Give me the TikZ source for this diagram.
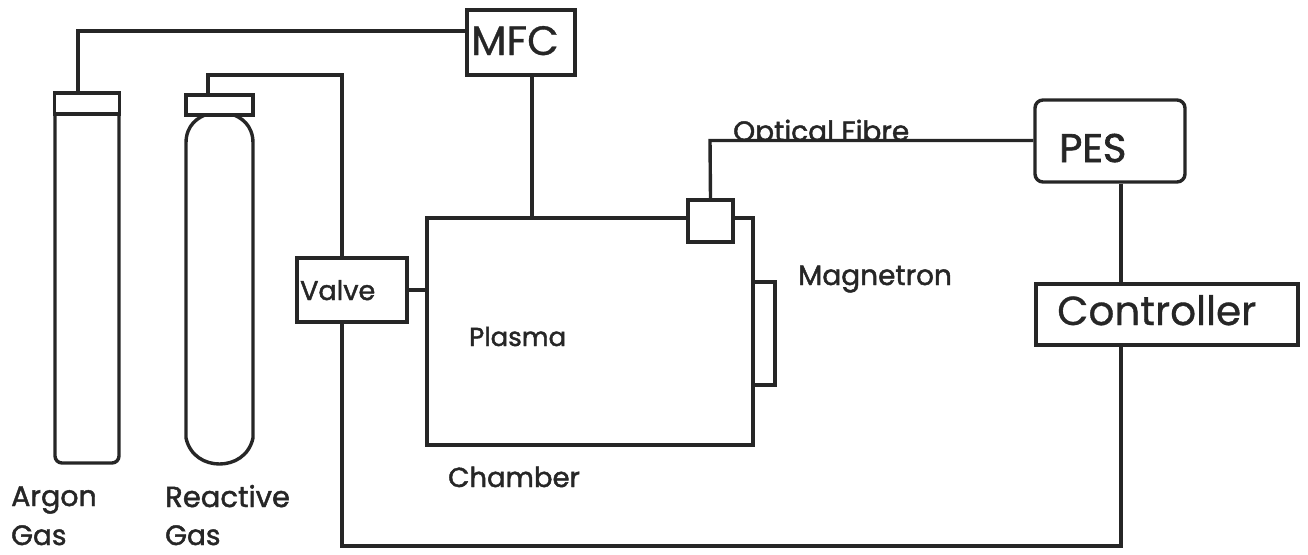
\documentclass[tikz,border=0pt]{standalone}
\usepackage{fontspec}
\setmainfont{Poppins}
\newfontfamily\hvfont[FakeBold=1.6]{Poppins}
\newfontfamily\mdfont[FakeBold=0.8]{Poppins}
\tikzset{
  ln/.style={draw=black!85, line width=3.4pt, line join=miter},
  lbl/.style={inner sep=0pt, text=black!85, anchor=base west},
  boxed/.style={draw=black!85, line width=3.4pt, fill=white, inner sep=0pt},
}
\newcommand{\fs}[1]{\fontsize{#1pt}{#1pt}\selectfont}
\begin{document}
\begin{tikzpicture}[x=1pt,y=-1pt]
\useasboundingbox (0,0) rectangle (1308,554);
% connectors that lie behind the boxes
\coordinate (a1) at (78,31);
\coordinate (r1) at (208,75);
\coordinate (r2) at (342,75);
\coordinate (o1) at (710,140.5);
\coordinate (b1) at (342,546);
\coordinate (b2) at (1121,546);
% label cut off by the fibre line, as printed
\begin{scope}
\clip (725,110) rectangle (925,141);
\node[lbl,font=\hvfont\fs{28}] (topt) at (733,141) {Optical Fibre};
\end{scope}
% chamber, sensor, boxes
\node[boxed,minimum width=326pt,minimum height=227pt] (ch) at (590,331.5) {};
\node[boxed,minimum width=108pt,minimum height=65pt] (mfc) at (521,42.5) {};
\node[boxed,minimum width=110pt,minimum height=64pt] (valve) at (352,290) {};
\node[boxed,rounded corners=8pt,minimum width=150pt,minimum height=82pt] (pes) at (1110,141) {};
\node[boxed,minimum width=262pt,minimum height=61pt] (ctl) at (1167,314.5) {};
% cylinders
\draw[ln,rounded corners=7pt] (55,114) -- (55,463) -- (119,463) -- (119,114);
\draw[ln] (186,143) .. controls (186,125) and (198,117) .. (208,114)
  (231,114) .. controls (241,117) and (253,125) .. (253,143)
  (186,143) -- (186,438) .. controls (190,456) and (205,464) .. (219.5,464)
  .. controls (234,464) and (249,456) .. (253,438) -- (253,143);
\node[boxed,minimum width=65pt,minimum height=21pt] (acap) at (87,103.5) {};
\node[boxed,minimum width=67pt,minimum height=20pt] (rcap) at (219.5,105) {};
% connectors
\draw[ln] (a1 |- acap.north) -- (a1) -- (a1 -| mfc.west);
\draw[ln] (r1 |- rcap.north) -- (r1) -- (r2) -- (r2 |- valve.north);
\draw[ln] ([xshift=11pt]mfc.south) -- ([xshift=11pt]mfc.south |- ch.north);
\draw[ln] (valve.east) -- (valve.east -| ch.west);
\node[boxed,minimum width=45pt,minimum height=42pt] (sq) at (710.5,221) {};
\draw[ln] (sq.north) -- (o1) -- (o1 -| pes.west);
\draw[ln] (pes.south -| b2) -- (ctl.north -| b2);
\draw[ln] (r2 |- valve.south) -- (b1) -- (b2) -- (b2 |- ctl.south);
% magnetron
\coordinate (m1) at (775,282);
\coordinate (m2) at (775,385);
\draw[ln] (m1 -| ch.east) -- (m1) -- (m2) -- (m2 -| ch.east);
% labels
\node[lbl,font=\mdfont\fs{41}] (tmfc) at (471,55) {MFC};
\node[lbl,font=\hvfont\fs{40}] (tpes) at (1059,162) {PES};
\node[lbl,font=\mdfont\fs{40.5}] (tctl) at (1057,325) {Controller};
\node[lbl,font=\hvfont\fs{27}] (tval) at (300,300) {Valve};
\node[lbl,font=\hvfont\fs{26}] (tpla) at (469,346) {Plasma};
\node[lbl,font=\hvfont\fs{27.5}] (tcha) at (448,487) {Chamber};
\node[lbl,font=\hvfont\fs{28}] (tmag) at (798,285) {Magnetron};
\node[lbl,font=\hvfont\fs{28.5}] (tar1) at (11,506) {Argon};
\node[lbl,font=\hvfont\fs{28}] (tar2) at (11,545) {Gas};
\node[lbl,font=\hvfont\fs{29}] (tre1) at (165,507) {Reactive};
\node[lbl,font=\hvfont\fs{28}] (tre2) at (165,545) {Gas};
\end{tikzpicture}
\end{document}
